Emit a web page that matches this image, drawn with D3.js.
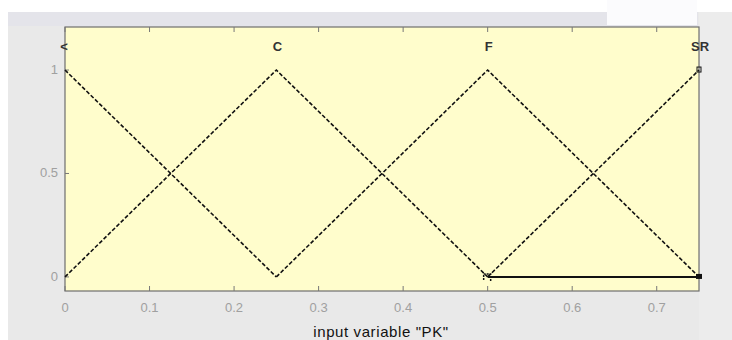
<!DOCTYPE html>
<html><head><meta charset="utf-8">
<script src="https://cdn.jsdelivr.net/npm/d3@7"></script>
<style>body{margin:0;background:#fff;}svg{display:block;font-family:"Liberation Sans",Arial,sans-serif;}</style>
</head><body><svg id="c" width="732" height="340"></svg>
<script>
const mfNames = ["<", "C", "F", "SR"];
const mfLabelX = [0, 0.25, 0.5, 0.75];
const mfX = [[0, 0.25], [0, 0.25, 0.5], [0.25, 0.5, 0.75], [0.5, 0.75]];
const mfY = [[1, 0], [0, 1, 0], [0, 1, 0], [0, 1]];
const baseX = [0.5, 0.75];
const baseY = [0, 0];
const xTicks = [0, 0.1, 0.2, 0.3, 0.4, 0.5, 0.6, 0.7];
const xTickLabels = ["0", "0.1", "0.2", "0.3", "0.4", "0.5", "0.6", "0.7"];
const yTicks = [0, 0.5, 1];
const yTickLabels = ["0", "0.5", "1"];
const xLabel = 'input variable "PK"';

const svg = d3.select("#c");
const L = 65, R = 699, T = 27, B = 291;
const x = d3.scaleLinear().domain([0, 0.75]).range([L, R]);
const y = d3.scaleLinear().domain([-0.068, 1.208]).range([B, T]);

// background panels
svg.append("rect").attr("x", 0).attr("y", 0).attr("width", 732).attr("height", 340).attr("fill", "#ffffff");
svg.append("rect").attr("x", 8).attr("y", 12).attr("width", 724).attr("height", 328).attr("fill", "#e9e9e9");
svg.append("rect").attr("x", 8).attr("y", 12).attr("width", 690).attr("height", 14).attr("fill", "#e4e4ea");
svg.append("rect").attr("x", 607).attr("y", 0).attr("width", 90).attr("height", 25).attr("fill", "#fbfbfd");
svg.append("rect").attr("x", 699).attr("y", 12).attr("width", 33).attr("height", 328).attr("fill", "#ececec");

// plot area
svg.append("rect").attr("x", L).attr("y", T).attr("width", R - L).attr("height", B - T)
  .attr("fill", "#fffdcc").attr("stroke", "#6e6e6e").attr("stroke-width", 1.2);

// ticks (inward)
const tg = svg.append("g").attr("stroke", "#777").attr("stroke-width", 1);
xTicks.forEach(t => {
  tg.append("line").attr("x1", x(t)).attr("x2", x(t)).attr("y1", B).attr("y2", B - 5);
  tg.append("line").attr("x1", x(t)).attr("x2", x(t)).attr("y1", T).attr("y2", T + 5);
});
yTicks.forEach(t => {
  tg.append("line").attr("x1", L).attr("x2", L + 4).attr("y1", y(t)).attr("y2", y(t));
});

// tick labels
svg.append("g").selectAll("text").data(xTicks).join("text")
  .attr("x", d => x(d)).attr("y", 312).attr("text-anchor", "middle")
  .attr("font-size", 13).attr("fill", "#a0a0a0")
  .text((d, i) => xTickLabels[i]);
svg.append("g").selectAll("text").data(yTicks).join("text")
  .attr("x", 58).attr("y", d => y(d) + 4).attr("text-anchor", "end")
  .attr("font-size", 13).attr("fill", "#a0a0a0")
  .text((d, i) => yTickLabels[i]);

// x label
svg.append("text").attr("x", 381).attr("y", 337).attr("text-anchor", "middle")
  .attr("font-size", 15).attr("letter-spacing", 0.6).attr("fill", "#111").text(xLabel);

// membership functions
const line = d3.line().x(d => x(d[0])).y(d => y(d[1]));
mfX.forEach((xs, i) => {
  const pts = xs.map((v, j) => [v, mfY[i][j]]);
  svg.append("path").attr("d", line(pts)).attr("fill", "none")
    .attr("stroke", "#111").attr("stroke-width", 1.6).attr("stroke-dasharray", "4,2");
});
svg.append("path").attr("d", line(baseX.map((v, j) => [v, baseY[j]])))
  .attr("fill", "none").attr("stroke", "#111").attr("stroke-width", 2);

// endpoint markers
svg.append("rect").attr("x", x(0.75) - 3).attr("y", y(0) - 3).attr("width", 6).attr("height", 5).attr("fill", "#111");
svg.append("rect").attr("x", x(0.75) - 2).attr("y", y(1) - 3).attr("width", 4).attr("height", 5).attr("fill", "none").attr("stroke", "#111").attr("stroke-width", 1);
svg.append("path").attr("d", `M${x(0.5)-4},${y(0)+3}V${y(0)-3}H${x(0.5)+3}V${y(0)+4}`)
  .attr("fill", "none").attr("stroke", "#111").attr("stroke-width", 1.5).attr("stroke-dasharray", "2,1");

// mf labels
svg.append("g").selectAll("text").data(mfNames).join("text")
  .attr("x", (d, i) => x(mfLabelX[i]) + (i === 0 ? -1 : 1)).attr("y", 51)
  .attr("text-anchor", "middle").attr("font-size", 13).attr("font-weight", "bold")
  .attr("fill", "#333").text(d => d);
</script></body></html>
